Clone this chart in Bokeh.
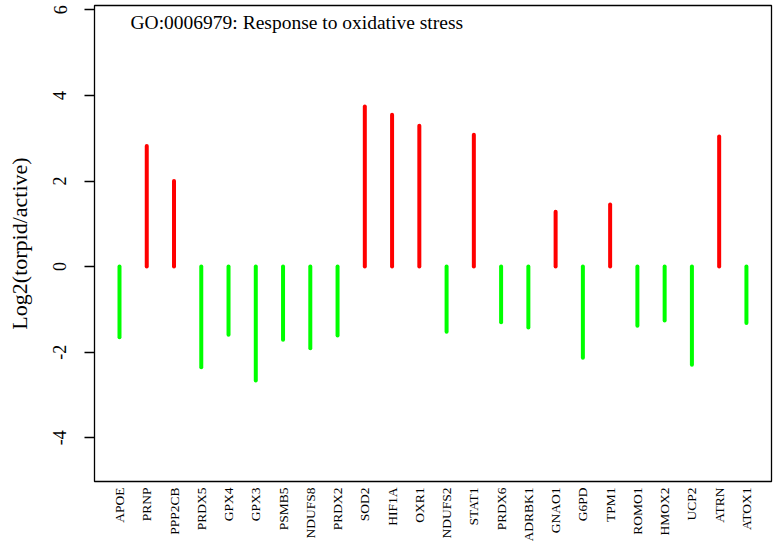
import math
from bokeh.plotting import figure
from bokeh.models import FixedTicker, Label, ColumnDataSource, Range1d
from bokeh.embed import file_html
from bokeh.resources import INLINE

# ---- data ----
genes = ["APOE", "PRNP", "PPP2CB", "PRDX5", "GPX4", "GPX3", "PSMB5", "NDUFS8",
         "PRDX2", "SOD2", "HIF1A", "OXR1", "NDUFS2", "STAT1", "PRDX6", "ADRBK1",
         "GNAO1", "G6PD", "TPM1", "ROMO1", "HMOX2", "UCP2", "ATRN", "ATOX1"]
log2_ratio = [-1.65, 2.82, 2.00, -2.35, -1.59, -2.66, -1.71, -1.91,
              -1.61, 3.74, 3.55, 3.29, -1.52, 3.08, -1.30, -1.42,
              1.28, -2.13, 1.45, -1.38, -1.26, -2.29, 3.04, -1.32]
y_ticks = [-4, -2, 0, 2, 4, 6]
y_tick_labels = ["-4", "-2", "0", "2", "4", "6"]
title_text = "GO:0006979: Response to oxidative stress"
y_label = "Log2(torpid/active)"

FONT = "Liberation Serif"

idx = list(range(len(genes)))
colors = ["#FF0000" if v > 0 else "#00FF00" for v in log2_ratio]
src = ColumnDataSource(dict(x=idx, y0=[0] * len(idx), y1=log2_ratio, color=colors))

p = figure(frame_width=677, frame_height=476,
           x_range=Range1d(-0.917, 23.92), y_range=Range1d(-5.02, 6.1),
           output_backend="svg", toolbar_location=None,
           min_border_left=94, min_border_right=4, min_border_top=5,
           min_border_bottom=58)

p.segment(x0="x", y0="y0", x1="x", y1="y1", source=src,
          line_color="color", line_width=4, line_cap="round")

p.xgrid.visible = False
p.ygrid.visible = False
p.outline_line_color = "black"
p.outline_line_width = 1.3
p.background_fill_color = "white"
p.border_fill_color = "white"

# x axis
p.xaxis.ticker = FixedTicker(ticks=idx)
p.xaxis.major_label_overrides = {i: g for i, g in zip(idx, genes)}
p.xaxis.major_label_orientation = math.pi / 2
p.xaxis.major_tick_line_color = None
p.xaxis.major_tick_out = 0
p.xaxis.major_tick_in = 0
p.xaxis.minor_tick_line_color = None
p.xaxis.axis_line_color = None
p.xaxis.major_label_standoff = 6
p.xaxis.major_label_text_font = FONT
p.xaxis.major_label_text_font_size = "13.5px"
p.xaxis.major_label_text_color = "black"

# y axis
p.yaxis.ticker = FixedTicker(ticks=y_ticks)
p.yaxis.major_label_overrides = {t: l for t, l in zip(y_ticks, y_tick_labels)}
p.yaxis.major_label_orientation = "parallel"
p.yaxis.major_tick_out = 10
p.yaxis.major_tick_in = 0
p.yaxis.major_tick_line_color = "black"
p.yaxis.major_tick_line_width = 1.3
p.yaxis.minor_tick_line_color = None
p.yaxis.axis_line_color = None
p.yaxis.major_label_standoff = 18
p.yaxis.major_label_text_font = FONT
p.yaxis.major_label_text_font_size = "18px"
p.yaxis.major_label_text_color = "black"
p.yaxis.axis_label = y_label
p.yaxis.axis_label_text_font = FONT
p.yaxis.axis_label_text_font_style = "normal"
p.yaxis.axis_label_text_font_size = "22px"
p.yaxis.axis_label_text_color = "black"
p.yaxis.axis_label_standoff = 19

p.add_layout(Label(x=36, y=459, x_units="screen", y_units="screen",
                   text=title_text, text_font=FONT, text_font_size="19.5px",
                   text_baseline="middle", text_color="black"))

open("out.html", "w").write(file_html(p, INLINE))
